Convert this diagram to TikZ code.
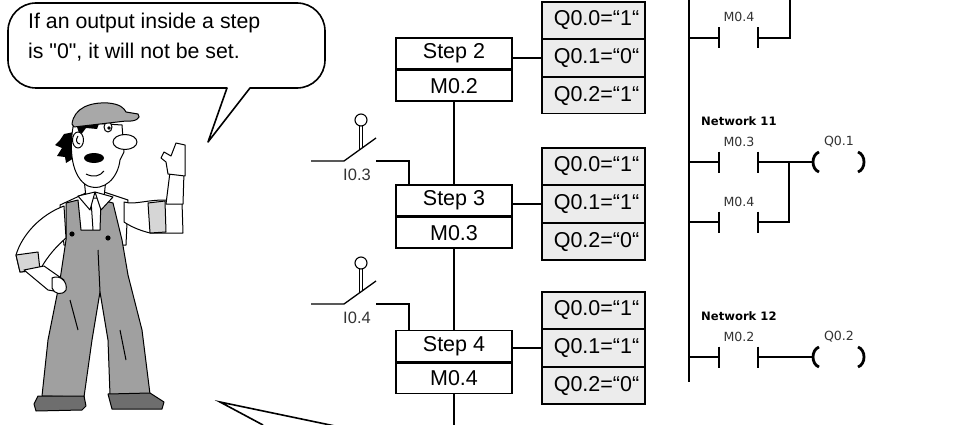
\documentclass[tikz,border=0pt]{standalone}
\usepackage{fontspec}
\setmainfont{Liberation Sans}
\newfontfamily\ladderfont{DejaVu Sans}
\definecolor{boxgrey}{HTML}{ECECEC}
\definecolor{overall}{HTML}{A0A0A0}
\definecolor{capgrey}{HTML}{A8A8A8}
\definecolor{shoegrey}{HTML}{6E6E6E}
\definecolor{labelgrey}{HTML}{333333}
\definecolor{shade}{HTML}{D6D6D6}
\begin{document}
\begin{tikzpicture}[x=1pt,y=-1pt,
  stepbox/.style={draw, line width=1.4pt, fill=white, minimum width=116pt,
    inner sep=0pt, font=\fontsize{21.5}{24}\selectfont},
  outbox/.style={draw, line width=1.2pt, fill=boxgrey, minimum width=103pt,
    minimum height=36.5pt, inner sep=0pt, font=\fontsize{21.5}{24}\selectfont,
    execute at begin node={\hspace*{6pt}}},
  wire/.style={line width=1.3pt},
  rail/.style={line width=2.2pt},
  lwire/.style={line width=1.6pt},
  plate/.style={line width=2.4pt},
  coilline/.style={line width=2.8pt},
  swlabel/.style={font=\fontsize{16.5}{18}\selectfont, text=labelgrey, inner sep=0pt},
  netlabel/.style={font=\ladderfont\bfseries\fontsize{11.6}{13}\selectfont, anchor=west, inner sep=0pt},
  oplabel/.style={font=\ladderfont\fontsize{12.6}{14}\selectfont, text=labelgrey, inner sep=0pt},
  bubbletext/.style={font=\fontsize{21.3}{24}\selectfont, anchor=base west, inner sep=0pt},
  figline/.style={line width=1pt, line join=round}
]
\useasboundingbox (0,0) rectangle (968,425);
\clip (0,0) rectangle (968,425);

% ---------------- worker figure ----------------
% shirt body
\draw[figline, fill=white] (60,205) -- (88,192) -- (104,192) -- (128,200) -- (126,245) -- (64,245) -- cycle;
\draw[figline] (91,200) -- (93,230);
% overalls with straps and legs
\draw[figline, fill=overall] (66,203) -- (78,200) -- (81,230) -- (100,230) -- (101,200) -- (113,203)
  -- (122,240) -- (128,275) -- (142,330) -- (150,394) -- (110,395) -- (108,340) -- (100,292)
  -- (92,340) -- (84,397) -- (42,396) -- (48,340) -- (60,280) -- (66,240) -- cycle;
\draw[figline] (100,292) -- (98,250);
\draw[figline] (70,300) -- (78,330);
\draw[figline] (120,330) -- (126,360);
\fill (72,234) circle[radius=2.6];
\fill (108,238) circle[radius=2.6];
% left arm, resting on the hip
\draw[figline, fill=white] (64,206) .. controls (40,215) and (22,235) .. (16,255) -- (20,272)
  -- (40,270) .. controls (48,255) and (58,245) .. (66,238) -- cycle;
\draw[figline, fill=shade] (16,255) -- (20,272) -- (40,270) -- (38,252) -- cycle;
\draw[figline, fill=white] (24,270) -- (48,290) -- (60,292) -- (64,280) -- (44,266) -- cycle;
\draw[figline, fill=white] (52,278) .. controls (60,274) and (68,282) .. (66,290)
  .. controls (62,296) and (54,294) .. (52,288) -- cycle;
% right arm, raised
\draw[figline, fill=white] (124,202) .. controls (135,205) and (145,200) .. (165,200) -- (182,202)
  -- (183,233) -- (150,233) .. controls (138,230) and (130,226) .. (124,222) -- cycle;
\draw[figline, fill=shade] (148,203) -- (165,201) -- (166,232) -- (150,233) -- cycle;
\draw[figline, fill=white] (166,204) -- (170,172) -- (184,172) -- (183,204) -- cycle;
\draw[figline, fill=white] (168,174) -- (166,162) -- (161,158) -- (164,152) -- (171,156)
  -- (176,143) -- (185,145) -- (185,176) -- cycle;
% neck and collar
\draw[figline, fill=white] (84,178) -- (86,198) -- (104,198) -- (106,178);
\draw[figline, fill=white] (78,196) -- (95,192) -- (90,210) -- cycle;
\draw[figline, fill=white] (113,197) -- (95,192) -- (101,210) -- cycle;
% head
\fill (74,132) -- (64,134) -- (60,140) -- (55,145) -- (62,148) -- (57,156) -- (65,157) -- (66,163)
  -- (74,158) -- cycle;
\draw[figline, fill=white] (74,122) .. controls (68,150) and (72,178) .. (88,186)
  .. controls (104,192) and (118,178) .. (120,160) -- (124,152) -- (122,125) -- cycle;
\fill (76,124) -- (100,121) -- (97,129) -- (86,128) -- (80,136) -- cycle;
\draw[figline, fill=white] (78,140) ellipse[x radius=5.5, y radius=8];
\draw[figline] (78,136) .. controls (75,140) and (77,144) .. (80,144);
\draw[figline, fill=white] (125,142) ellipse[x radius=12, y radius=7.5];
\draw[figline, fill=white] (108,127) ellipse[x radius=4, y radius=5];
\fill (109,128) circle[radius=1.8];
\draw[figline] (102,121) -- (114,120);
\fill (94,158) ellipse[x radius=10, y radius=5];
\draw[figline] (86,174) .. controls (94,178) and (100,176) .. (104,171);
% cap
\draw[figline, fill=capgrey] (72,124) .. controls (74,108) and (90,102) .. (108,103)
  .. controls (120,104) and (124,108) .. (126,112) -- (138,114)
  .. controls (142,118) and (135,122) .. (126,121) -- (74,127) -- cycle;
% shoes
\draw[figline, fill=shoegrey] (38,396) -- (84,396) -- (86,406) -- (82,410) -- (36,411) -- (34,404) -- cycle;
\draw[figline, fill=shoegrey] (108,394) -- (150,393) -- (164,402) -- (162,409) -- (112,409) -- cycle;

% ---------------- speech bubble ----------------
\draw[line width=1.6pt, fill=white, line join=round, rounded corners=28pt]
  (227,88) -- (8,88) -- (8,3) -- (325,3) -- (325,88) [sharp corners] -- (250,88) -- (208,142) -- cycle;
\node[bubbletext] (say1) at (28,29) {If an output inside a step};
\node[bubbletext] (say2) at (28,59) {is \textquotedbl 0\textquotedbl, it will not be set.};

% tail of a second bubble below
\coordinate (tailtip) at (220,402);
\draw[line width=1.6pt] (263,425) -- (tailtip) -- (335,426);

% ---------------- sequence steps ----------------
\node[stepbox, minimum height=31pt] (s2) at (454,53.5) {Step 2};
\node[stepbox, minimum height=30.5pt, anchor=north] (m2) at (s2.south) {M0.2};
\node[stepbox, minimum height=31pt] (s3) at (454,200.5) {Step 3};
\node[stepbox, minimum height=30.5pt, anchor=north] (m3) at (s3.south) {M0.3};
\node[stepbox, minimum height=31pt] (s4) at (454,346) {Step 4};
\node[stepbox, minimum height=30.5pt, anchor=north] (m4) at (s4.south) {M0.4};

% output tables
\node[outbox] (q20) at (593.5,20.25) {Q0.0=“1“};
\node[outbox, anchor=north] (q21) at (q20.south) {Q0.1=“0“};
\node[outbox, anchor=north] (q22) at (q21.south) {Q0.2=“1“};
\node[outbox] (q30) at (593.5,166.25) {Q0.0=“1“};
\node[outbox, anchor=north] (q31) at (q30.south) {Q0.1=“1“};
\node[outbox, anchor=north] (q32) at (q31.south) {Q0.2=“0“};
\node[outbox] (q40) at (593.5,310.25) {Q0.0=“1“};
\node[outbox, anchor=north] (q41) at (q40.south) {Q0.1=“1“};
\node[outbox, anchor=north] (q42) at (q41.south) {Q0.2=“0“};

\draw[wire] (s2.east |- q21.west) -- (q21.west);
\draw[wire] (s3.east |- q31.west) -- (q31.west);
\draw[wire] (s4.east |- q41.west) -- (q41.west);

% sequence line
\coordinate (seqend) at (454,430);
\draw[wire] (m2.south) -- (s3.north);
\draw[wire] (m3.south) -- (s4.north);
\draw[wire] (m4.south) -- (seqend);

% transition switches
\foreach \n/\yy in {3/161, 4/304} {
  \coordinate (swl\n) at (311,\yy);
  \coordinate (swa\n) at (344,\yy);
  \coordinate (swb\n) at (376,\yy-23);
  \coordinate (swc\n) at (376,\yy);
  \coordinate (swr\n) at (409,\yy);
  \draw[wire] (swl\n) -- (swa\n) -- (swb\n);
  \draw[wire] (swc\n) -- (swr\n) -- (swr\n |- s\n.north);
  \draw[line width=0.9pt] (359.4,\yy-35) -- (359.4,\yy-11.6) (362.6,\yy-35) -- (362.6,\yy-14);
  \draw[line width=1.1pt, fill=white] (361,\yy-41) circle[radius=6];
  \node[swlabel] (swt\n) at (357,\yy+13.5) {I0.\n};
}

% ---------------- ladder diagram ----------------
\coordinate (railtop) at (689,0);
\coordinate (railbot) at (689,382);
\draw[rail] (railtop) -- (railbot);

% network 10 (lower part)
\draw[lwire] (689,38) -- (719,38) (758,38) -- (790,38) -- (790,0);
\draw[plate] (719,27.5) -- (719,48.5) (758,27.5) -- (758,48.5);
\node[oplabel] (c10) at (739,17) {M0.4};

% network 11
\node[netlabel] (n11) at (701,121) {Network 11};
\draw[lwire] (689,162) -- (719,162) (758,162) -- (812,162);
\draw[lwire] (689,222) -- (719,222) (758,222) -- (789,222) -- (789,162);
\draw[plate] (719,151.5) -- (719,172.5) (758,151.5) -- (758,172.5);
\draw[plate] (719,211.5) -- (719,232.5) (758,211.5) -- (758,232.5);
\node[oplabel] (c11a) at (739,141.5) {M0.3};
\node[oplabel] (c11b) at (739,201.5) {M0.4};
\node[oplabel] (o11) at (839,141.5) {Q0.1};
\draw[coilline] (819,152) .. controls (811,155) and (811,169) .. (819,172);
\draw[coilline] (858,152) .. controls (866,155) and (866,169) .. (858,172);

% network 12
\node[netlabel] (n12) at (701,316) {Network 12};
\draw[lwire] (689,357) -- (719,357) (758,357) -- (812,357);
\draw[plate] (719,346.5) -- (719,367.5) (758,346.5) -- (758,367.5);
\node[oplabel] (c12) at (739,336.5) {M0.2};
\node[oplabel] (o12) at (839,336.5) {Q0.2};
\draw[coilline] (819,347) .. controls (811,350) and (811,364) .. (819,367);
\draw[coilline] (858,347) .. controls (866,350) and (866,364) .. (858,367);
\end{tikzpicture}
\end{document}
